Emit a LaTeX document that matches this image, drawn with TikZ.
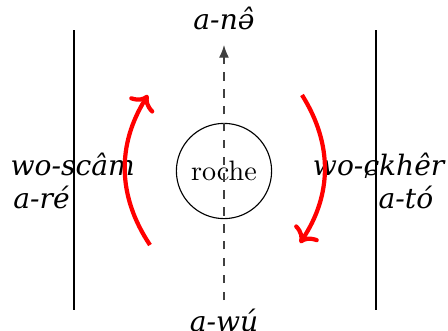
\documentclass[tikz,border=0pt]{standalone}
\usepackage{fontspec}
\newfontfamily\labelfont{DejaVu Serif}
\usetikzlibrary{positioning, arrows.meta}

\begin{document}
\begin{tikzpicture}[
    x=0.0125cm, y=-0.0125cm,
    wall/.style={draw=black, line width=0.8pt},
    axis/.style={draw=black!75, dashed, thin, -{Latex[length=4.5pt, width=3.5pt]}},
    rock/.style={draw=black, circle, minimum size=1.19cm, inner sep=0pt},
    side/.style={font=\labelfont\itshape, inner sep=0pt},
    flow/.style={draw=red, line width=1.5pt, ->, bend left=33}
  ]
    \useasboundingbox (0,0) rectangle (448,330);

    \node[rock] (rock) at (224,171) {roche};
    \node[side] (up)   at (224,18)  {a-nə̂};
    \node[side] (down) at (224,320) {a-wú};
    \node[side, align=left, anchor=west]  (left)  at (10,181)  {wo-scâm\\\hspace*{1pt}a-ré};
    \node[side, align=right, anchor=east] (right) at (445,181) {wo-ɕkhêr\\a-tó\hspace*{4pt}};

    % walls and axis
    \coordinate (wl1) at (74,30);  \coordinate (wl2) at (74,310);
    \coordinate (wr1) at (376,30); \coordinate (wr2) at (376,310);
    \draw[wall] (wl1) -- (wl2);
    \draw[wall] (wr1) -- (wr2);
    \coordinate (ax1) at (224,300); \coordinate (ax2) at (224,45);
    \draw[axis] (ax1) -- (ax2);

    % flow around the rock
    \coordinate (fl1) at (150,245); \coordinate (fl2) at (148,95);
    \coordinate (fr1) at (302,95);  \coordinate (fr2) at (300,243);
    \draw[flow] (fl1) to (fl2);
    \draw[flow] (fr1) to (fr2);
\end{tikzpicture}
\end{document}
